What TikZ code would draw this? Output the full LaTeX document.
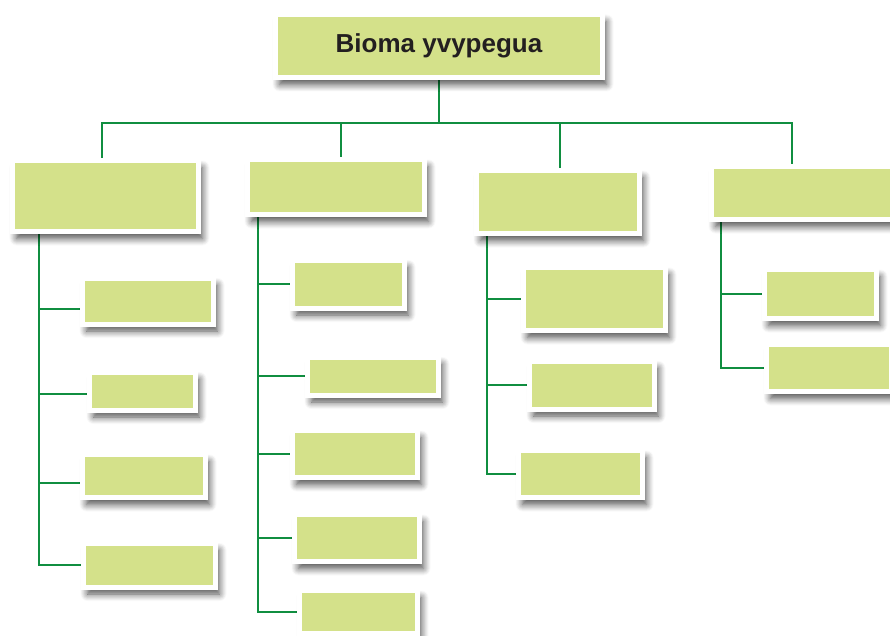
\documentclass[tikz,border=0pt]{standalone}
\usepackage{fontspec}
\setmainfont{Liberation Sans}
\usetikzlibrary{shadows.blur,backgrounds}

\definecolor{boxfill}{RGB}{212,225,138}
\definecolor{linegreen}{RGB}{16,142,64}
\definecolor{textgray}{RGB}{35,31,32}

\tikzset{
    box/.style={draw=white, line width=5pt, fill=boxfill, inner sep=0pt,
        blur shadow={shadow xshift=4pt, shadow yshift=-7pt, shadow blur radius=7pt, shadow opacity=70, shadow blur steps=8}},
    link/.style={draw=linegreen, line width=1.8pt}
}

\begin{document}
\begin{tikzpicture}[x=1pt,y=-1pt]
    \useasboundingbox (0,0) rectangle (890,636);
    
    % root and column heads
    \node [box, minimum width=327pt, minimum height=63pt, text=textgray,
        font=\bfseries\fontsize{26}{30}\selectfont] (top) at (439,46) {Bioma yvypegua};
    \node [box, minimum width=186pt, minimum height=71pt] (h1) at (105.5,196) {};
    \node [box, minimum width=177pt, minimum height=55pt] (h2) at (336,187) {};
    \node [box, minimum width=163pt, minimum height=63pt] (h3) at (558,202) {};
    \node [box, minimum width=185pt, minimum height=53pt] (h4) at (804,193) {};
    
    % leaves, \name/\x/\y/\w/\h
    \foreach \n/\x/\y/\w/\h in {a1/148/301/131/46, a2/142.5/391/106/38, a3/144/476/123/43, a4/149.5/565/132/44,
        b1/348.5/284/112/48, b2/373/376/131/38, b3/355/454/125/47, b4/357/538/125/47, b5/358.5/612/118/43,
        c1/594.5/299/142/63, c2/592/385/125/48, c3/580.5/474/124/47,
        d1/820.5/294/112/49, d2/829/368/125/47}
    	\node [box, minimum width=\w pt, minimum height=\h pt] (\n) at (\x,\y) {};
    
    \begin{scope}[on background layer]
    % bus
    \draw [link] (top.south) -- ++(0,43) coordinate (bus);
    \draw [link] ([xshift=-3.5pt]h1.north) |- (bus) -| ([xshift=-12pt]h4.north);
    \draw [link] ([xshift=5pt]h2.north) -- ([xshift=5pt]h2.north |- bus);
    \draw [link] ([xshift=2pt]h3.north) -- ([xshift=2pt]h3.north |- bus);
    
    % spines
    \coordinate (s1) at (39,234);
    \coordinate (s2) at (258,217);
    \coordinate (s3) at (487,236);
    \coordinate (s4) at (721,222);
    \draw [link] (s1) |- (a4.west);
    \draw [link] (s2) |- (b5.west);
    \draw [link] (s3) |- (c3.west);
    \draw [link] (s4) |- (d2.west);
    \foreach \n/\dy in {a1/8,a2/3,a3/7}{
    	\coordinate (br) at ([yshift=-\dy pt]\n.west);
    	\draw [link] (s1 |- br) -- (br);
    }
    \foreach \n in {b1,b2,b3,b4}
    	\draw [link] (s2 |- \n.west) -- (\n.west);
    \foreach \n in {c1,c2}
    	\draw [link] (s3 |- \n.west) -- (\n.west);
    \draw [link] (s4 |- d1.west) -- (d1.west);
    \end{scope}
    	
\end{tikzpicture}
\end{document}
